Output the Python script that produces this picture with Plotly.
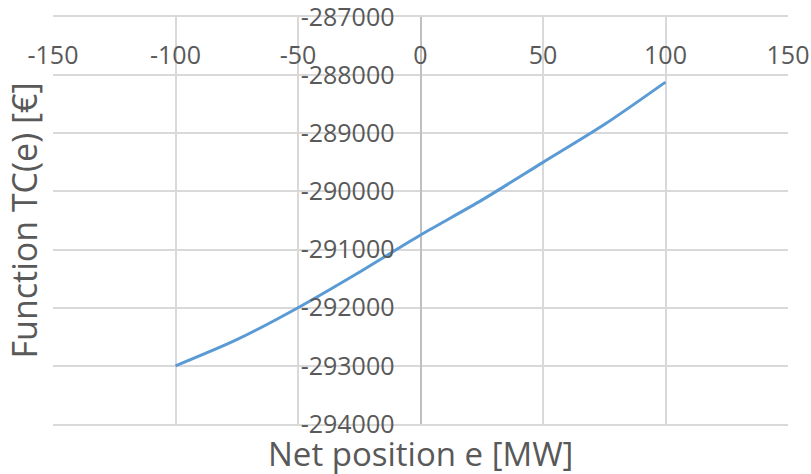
import plotly.graph_objects as go

# Net position e [MW] and the corresponding total cost TC(e) [€]
net_position = [-100, -75, -50, -25, 0, 25, 50, 75, 100]
total_cost = [-293000, -292550, -292000, -291390, -290750, -290150, -289500, -288850, -288120]

x_ticks = [-150, -100, -50, 0, 50, 100, 150]
y_ticks = [-294000, -293000, -292000, -291000, -290000, -289000, -288000, -287000]

FONT = "Open Sans"
TEXT = "#595959"
GRID = "#d9d9d9"
TICK_SIZE = 25

fig = go.Figure()
fig.add_trace(go.Scatter(
    x=net_position, y=total_cost, mode="lines",
    line=dict(color="#5b9bd5", width=3, shape="spline", smoothing=0.8),
    hoverinfo="x+y", showlegend=False,
))
# transparent copy that carries the labelled top axis
fig.add_trace(go.Scatter(
    x=net_position, y=total_cost, mode="lines", xaxis="x2",
    line=dict(color="rgba(0,0,0,0)", width=0),
    hoverinfo="skip", showlegend=False,
))

fig.update_layout(
    width=811, height=474,
    margin=dict(l=53, r=23, t=17, b=50, autoexpand=False),
    paper_bgcolor="white", plot_bgcolor="white",
    font=dict(family=FONT, color=TEXT),
    xaxis=dict(
        range=[-150, 150], tickvals=x_ticks, showticklabels=False,
        showgrid=True, gridcolor=GRID, gridwidth=1.5,
        zeroline=True, zerolinecolor="#bfbfbf", zerolinewidth=2,
        showline=True, linecolor=GRID, linewidth=1.5, mirror=True,
        ticks="", automargin=False,
    ),
    xaxis2=dict(
        range=[-150, 150], tickvals=x_ticks,
        ticktext=[str(v) for v in x_ticks],
        overlaying="x", side="top", anchor="free", position=0.872,
        tickfont=dict(size=TICK_SIZE, color=TEXT), ticklabeloverflow="allow",
        showgrid=False, zeroline=False, showline=False, ticks="",
        automargin=False,
    ),
    yaxis=dict(
        range=[-294000, -287000], tickvals=y_ticks,
        ticktext=[str(v) for v in y_ticks],
        anchor="free", position=0.5,
        tickfont=dict(size=TICK_SIZE, color=TEXT), ticklabelstandoff=26,
        ticklabeloverflow="allow",
        showgrid=True, gridcolor=GRID, gridwidth=1.5,
        zeroline=False, showline=False, ticks="", automargin=False,
    ),
    annotations=[
        dict(text="Net position e [MW]", xref="paper", yref="paper",
             x=0.5, y=0, yshift=-29, xanchor="center", yanchor="middle",
             showarrow=False,
             font=dict(size=33, color=TEXT, family=FONT)),
        dict(text="Function TC(e) [€]", xref="paper", yref="paper",
             x=0, y=0.5, xshift=-30, xanchor="center", yanchor="middle",
             textangle=-90, showarrow=False,
             font=dict(size=34, color=TEXT, family=FONT)),
    ],
)

fig.write_html("out.html")
